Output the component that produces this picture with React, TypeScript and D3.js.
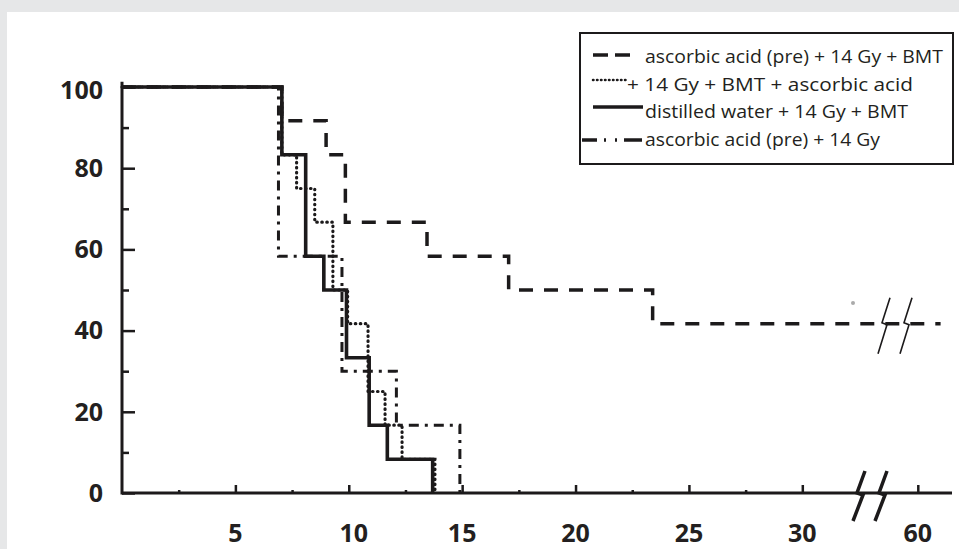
import { useEffect, useRef } from "react";
import * as d3 from "d3";

// survival (%), days on x
const dashedDays = [0, 7.05, 9.0, 9.85, 13.45, 17.05, 23.4, 61];
const dashedSurv = [100, 91.7, 83.3, 66.7, 58.3, 50, 41.7, 41.7];
const dottedDays = [0, 7.05, 7.7, 8.5, 9.3, 9.95, 10.85, 11.6, 12.35, 13.8];
const dottedSurv = [100, 83.3, 75, 66.7, 50, 41.7, 25, 16.7, 8.3, 0];
const solidDays = [0, 7.05, 8.1, 8.9, 9.9, 10.9, 11.7, 13.7];
const solidSurv = [100, 83.3, 58.3, 50, 33.3, 16.7, 8.3, 0];
const dashDotDays = [0, 6.9, 9.7, 12.1, 14.9];
const dashDotSurv = [100, 58.3, 30, 16.7, 0];

const legendLabels = [
  "ascorbic acid (pre) + 14 Gy + BMT",
  "+ 14 Gy + BMT + ascorbic acid",
  "distilled water + 14 Gy + BMT",
  "ascorbic acid (pre) + 14 Gy",
];

const xMajor = [5, 10, 15, 20, 25, 30, 60];
const xMinor = [2.5, 7.5, 12.5, 17.5, 22.5, 27.5];
const yMajor = [0, 20, 40, 60, 80, 100];
const yMinor = [10, 30, 50, 70, 90];

const W = 959;
const H = 549;
const ink = "#1c1a1b";
const font = "'Open Sans', 'Noto Sans', sans-serif";

// broken x axis: 0-32.5 then jump to 59-61.5
const x = d3.scaleLinear().domain([0, 32.5, 59, 61.5]).range([122, 859, 895, 952]);
const y = d3.scaleLinear().domain([0, 100]).range([493, 87]);

const stepLine = d3
  .line<[number, number]>()
  .x((d) => x(d[0]))
  .y((d) => y(d[1]))
  .curve(d3.curveStepAfter);

const zip = (a: number[], b: number[]) => a.map((v, i) => [v, b[i]] as [number, number]);

const series = [
  { name: legendLabels[0], pts: zip(dashedDays, dashedSurv), dash: "14 11", w: 3.5, cap: "butt" },
  { name: legendLabels[1], pts: zip(dottedDays, dottedSurv), dash: "0.5 4.5", w: 3.2, cap: "round" },
  { name: legendLabels[2], pts: zip(solidDays, solidSurv), dash: null, w: 3.6, cap: "butt" },
  { name: legendLabels[3], pts: zip(dashDotDays, dashDotSurv), dash: "10 6 3 6", w: 3, cap: "butt" },
];

const App = () => {
  const xAxisRef = useRef<SVGGElement>(null);
  const yAxisRef = useRef<SVGGElement>(null);

  useEffect(() => {
    const style = (g: any) => {
      g.selectAll(".domain").remove();
      g.selectAll("line").attr("stroke", ink).attr("stroke-width", 2.5);
    };

    const xg = d3.select(xAxisRef.current);
    xg.selectAll("*").remove();
    xg.append("g").call(
      d3.axisBottom(x).tickValues(xMajor).tickSizeInner(-8).tickSizeOuter(0).tickFormat(() => "")
    ).call(style);
    xg.append("g").call(
      d3.axisBottom(x).tickValues(xMinor).tickSizeInner(-3).tickSizeOuter(0).tickFormat(() => "")
    ).call(style);

    const yg = d3.select(yAxisRef.current);
    yg.selectAll("*").remove();
    yg.append("g").call(
      d3.axisLeft(y).tickValues(yMajor).tickSizeInner(-13).tickSizeOuter(0).tickFormat(() => "")
    ).call(style);
    yg.append("g").call(
      d3.axisLeft(y).tickValues(yMinor).tickSizeInner(-7).tickSizeOuter(0).tickFormat(() => "")
    ).call(style);
  }, []);

  const breakPath = "M7,-22 L-1,0 L5,2 L-5,28";
  const lineBreak = "M7,-26 L-1,-1 L4,1 L-5,30";

  const legendRows = [63, 90.5, 118, 145.5];
  const legendX = [645, 627, 645, 645];
  const legendW = [298, 286, 263, 235];

  return (
    <svg width={W} height={H} style={{ position: "absolute", left: 0, top: 0 }}>
      <rect x={0} y={0} width={W} height={H} fill="#e6e7e8" />
      <rect x={7} y={12} width={W - 7} height={H - 12} fill="#fff" />

      {series.map((s, i) => (
        <path
          key={i}
          d={stepLine(s.pts) || ""}
          fill="none"
          stroke={ink}
          strokeWidth={s.w}
          strokeDasharray={s.dash || undefined}
          strokeLinecap={s.cap as any}
        />
      ))}

      {/* axes */}
      <line x1={x(0)} x2={x(61.5)} y1={y(0)} y2={y(0)} stroke={ink} strokeWidth={3} />
      <line x1={x(0)} x2={x(0)} y1={y(0) + 1.5} y2={y(101.3)} stroke={ink} strokeWidth={3} />
      <g ref={xAxisRef} transform={`translate(0,${y(0)})`} />
      <g ref={yAxisRef} transform={`translate(${x(0)},0)`} />

      {/* tick labels */}
      <g fontFamily={font} fontWeight={700} fontSize={25} fill="#231f20">
        {yMajor.map((v) => (
          <text key={v} x={x(0) - 19} y={y(v) + (v === 100 ? 3 : 0)} dy="0.35em" textAnchor="end">
            {v}
          </text>
        ))}
        {xMajor.map((v) => (
          <text key={v} x={x(v) + (v === 10 ? 5 : 0)} y={542} textAnchor="middle">
            {v}
          </text>
        ))}
      </g>

      {/* axis break */}
      {[858, 880].map((bx) => (
        <path key={bx} d={breakPath} transform={`translate(${bx},${y(0)})`} fill="none" stroke={ink} strokeWidth={3.5} />
      ))}
      {/* break on the dashed curve */}
      {[883, 905].map((bx) => (
        <path key={bx} d={lineBreak} transform={`translate(${bx},${y(41.7)})`} fill="none" stroke={ink} strokeWidth={1.6} />
      ))}
      <circle cx={853} cy={303} r={2} fill="#aaa" />

      {/* legend */}
      <rect x={580} y={33} width={373} height={131} fill="#fff" stroke={ink} strokeWidth={2} />
      <line x1={593} x2={637} y1={55} y2={55} stroke={ink} strokeWidth={3.5} strokeDasharray="15 7" />
      <line x1={593} x2={626} y1={80} y2={80} stroke={ink} strokeWidth={2.5} strokeDasharray="0.5 3.5" strokeLinecap="round" />
      <line x1={593} x2={643} y1={107} y2={107} stroke={ink} strokeWidth={3.5} />
      <line x1={582} x2={642} y1={140} y2={140} stroke={ink} strokeWidth={3.5} strokeDasharray="15 7 2 9 2 7 20" />
      {legendLabels.map((t, i) => (
        <text
          key={t}
          x={legendX[i]}
          y={legendRows[i]}
          fontFamily={font}
          fontSize={19}
          fill="#231f20"
          textLength={legendW[i]}
          lengthAdjust="spacingAndGlyphs"
        >
          {t}
        </text>
      ))}
    </svg>
  );
};

export default App;
